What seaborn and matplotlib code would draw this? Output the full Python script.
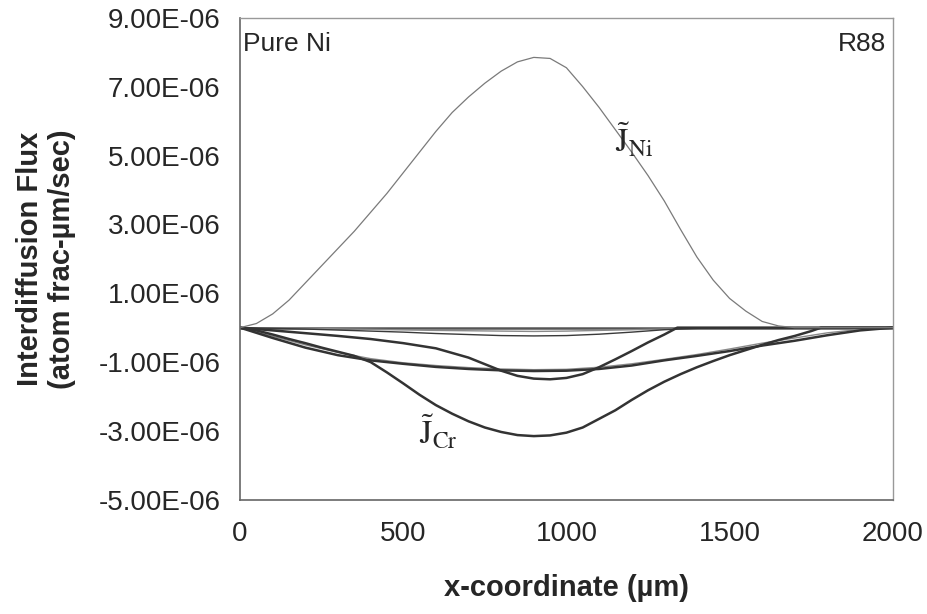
import matplotlib
matplotlib.use("Agg")
import matplotlib.pyplot as plt
import pandas as pd
import seaborn as sns

# interdiffusion fluxes, values in 1e-6 atom frac-um/sec
x_ni = [0, 50, 100, 150, 200, 250, 300, 350, 400, 450, 500, 550, 600, 650, 700, 750,
        800, 850, 900, 950, 1000, 1050, 1100, 1150, 1200, 1250, 1300, 1350, 1400,
        1450, 1500, 1550, 1600, 1650, 1700, 1800, 1900, 2000]
j_ni = [0, 0.12, 0.4, 0.8, 1.3, 1.8, 2.3, 2.8, 3.35, 3.9, 4.5, 5.1, 5.7, 6.25, 6.7, 7.1,
        7.45, 7.72, 7.85, 7.82, 7.55, 7.0, 6.4, 5.75, 5.1, 4.42, 3.68, 2.85, 2.05,
        1.38, 0.85, 0.48, 0.18, 0.05, 0, 0, 0, 0]

x_cr = [0, 50, 100, 150, 200, 250, 300, 350, 400, 450, 500, 550, 600, 650, 700, 750,
        800, 850, 900, 950, 1000, 1050, 1100, 1150, 1200, 1250, 1300, 1350, 1400,
        1450, 1500, 1550, 1600, 1650, 1700, 1750, 1780, 1850, 2000]
j_cr = [0, -0.08, -0.2, -0.33, -0.45, -0.58, -0.7, -0.82, -1.0, -1.3, -1.62, -1.95,
        -2.25, -2.5, -2.72, -2.9, -3.03, -3.12, -3.15, -3.13, -3.05, -2.9, -2.65, -2.4,
        -2.1, -1.82, -1.57, -1.35, -1.15, -0.97, -0.8, -0.65, -0.5, -0.36, -0.24, -0.1,
        0, 0, 0]

x_b = [0, 100, 200, 300, 400, 500, 600, 700, 800, 900, 1000, 1100, 1200, 1300, 1400,
       1500, 1600, 1700, 1800, 1900, 2000]
j_b = [0, -0.3, -0.58, -0.8, -0.95, -1.05, -1.14, -1.2, -1.24, -1.26, -1.25, -1.2,
       -1.1, -0.95, -0.82, -0.68, -0.52, -0.38, -0.22, -0.08, 0]
j_b2 = [0, -0.25, -0.5, -0.72, -0.9, -1.02, -1.1, -1.16, -1.2, -1.22, -1.21, -1.15,
        -1.05, -0.92, -0.78, -0.62, -0.45, -0.3, -0.15, -0.05, 0]

x_c = [0, 100, 200, 300, 400, 500, 600, 700, 800, 850, 900, 950, 1000, 1050, 1100,
       1150, 1200, 1250, 1300, 1340, 1500, 2000]
j_c = [0, -0.08, -0.16, -0.24, -0.33, -0.45, -0.6, -0.87, -1.25, -1.4, -1.48, -1.5,
       -1.46, -1.35, -1.15, -0.92, -0.68, -0.43, -0.2, 0, 0, 0]

x_d = [0, 100, 200, 300, 400, 500, 600, 700, 800, 900, 1000, 1100, 1200, 1300, 1400,
       1500, 2000]
j_d = [0, -0.02, -0.04, -0.07, -0.1, -0.13, -0.17, -0.2, -0.23, -0.24, -0.23, -0.19,
       -0.13, -0.06, -0.02, 0, 0]

x_e = [0, 200, 400, 600, 800, 900, 1000, 1200, 1400, 1600, 2000]
j_e = [0, -0.02, -0.05, -0.08, -0.1, -0.11, -0.1, -0.06, -0.02, 0, 0]

x_z = [0, 2000]
j_z = [0, 0]

y_ticks = [9, 7, 5, 3, 1, -1, -3, -5]
x_ticks = [0, 500, 1000, 1500, 2000]

sns.set_style("white")
plt.rcParams["font.family"] = ["Liberation Sans", "DejaVu Sans"]
plt.rcParams["mathtext.fontset"] = "stix"

fig = plt.figure(figsize=(9.27, 6.14), dpi=100)
ax = fig.add_axes([0.259, 0.186, 0.704, 0.785])

series = [
    (x_z, j_z, "#555555", 1.8),
    (x_e, j_e, "#8a8a8a", 1.0),
    (x_d, j_d, "#3a3a3a", 1.0),
    (x_b, j_b2, "#8a8a8a", 1.0),
    (x_b, j_b, "#333333", 1.8),
    (x_c, j_c, "#333333", 1.8),
    (x_cr, j_cr, "#333333", 1.8),
    (x_ni, j_ni, "#7a7a7a", 0.9),
]
for xs, ys, col, lw in series:
    df = pd.DataFrame({"x": xs, "flux": [v * 1e-6 for v in ys]})
    sns.lineplot(data=df, x="x", y="flux", ax=ax, color=col, linewidth=lw)

ax.set_xlim(0, 2000)
ax.set_ylim(-5e-6, 9e-6)
ax.set_xticks(x_ticks)
ax.set_yticks([v * 1e-6 for v in y_ticks])
ax.set_xticklabels([str(v) for v in x_ticks])
ax.set_yticklabels(["%.2fE-06" % v for v in y_ticks])
ax.tick_params(axis="both", direction="out", length=9, width=1, color="#555555",
               labelsize=20, pad=5)
ax.tick_params(axis="x", pad=6)

for side in ["left", "bottom"]:
    ax.spines[side].set_color("#666666")
    ax.spines[side].set_linewidth(1.2)
for side in ["top", "right"]:
    ax.spines[side].set_color("#999999")
    ax.spines[side].set_linewidth(1.0)

ax.set_xlabel("x-coordinate (µm)", fontsize=21, fontweight="bold", labelpad=20)
ax.set_ylabel("Interdiffusion Flux\n(atom frac-µm/sec)", fontsize=21,
              fontweight="bold", labelpad=16)

ax.text(0.005, 0.97, "Pure Ni", transform=ax.transAxes, fontsize=19,
        ha="left", va="top")
ax.text(0.99, 0.97, "R88", transform=ax.transAxes, fontsize=19,
        ha="right", va="top")
ax.text(1150, 5.45e-6, r"$\tilde{\mathrm{J}}_{\mathrm{Ni}}$", fontsize=24,
        ha="left", va="center")
ax.text(548, -3.05e-6, r"$\tilde{\mathrm{J}}_{\mathrm{Cr}}$", fontsize=24,
        ha="left", va="center")

fig.savefig("out.png", dpi=100)
